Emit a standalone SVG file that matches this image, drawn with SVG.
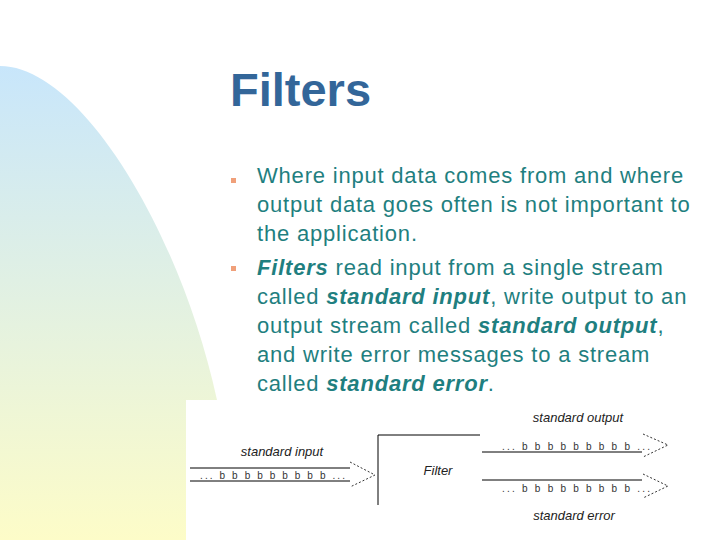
<svg xmlns="http://www.w3.org/2000/svg" width="720" height="540" viewBox="0 0 720 540">
<defs>
<linearGradient id="bg" x1="0" y1="0" x2="0" y2="1">
<stop offset="0" stop-color="#c8e6fb"/>
<stop offset="1" stop-color="#fdfcc8"/>
</linearGradient>
<style>
.b{font-family:"Liberation Sans",Arial,sans-serif;font-size:22px;letter-spacing:0.8px;fill:#1f7f80}
.d{font-family:"Liberation Sans",Arial,sans-serif;font-size:13px;font-style:italic;fill:#222}
.s{font-family:"Liberation Sans",Arial,sans-serif;font-size:10px;fill:#333}
.l{stroke:#000;stroke-width:1;fill:none}
.a{stroke:#333;stroke-width:1;fill:none;stroke-dasharray:2,2}
</style>
</defs>
<rect width="720" height="540" fill="#fff"/>
<path d="M0,66 C80,66 180,230 217,400 L186,400 L186,540 L0,540 Z" fill="url(#bg)"/>
<text x="230" y="106" font-family="Liberation Sans,Arial,sans-serif" font-size="47" font-weight="bold" fill="#336699">Filters</text>
<g id="bullets">
<rect x="231" y="178" width="5" height="5" fill="#f0a07a"/>
<rect x="231" y="266" width="5" height="5" fill="#f0a07a"/>
<text class="b" x="257" y="183">Where input data comes from and where</text>
<text class="b" x="257" y="212">output data goes often is not important to</text>
<text class="b" x="257" y="241">the application.</text>
<text class="b" x="257" y="275"><tspan font-weight="bold" font-style="italic">Filters</tspan> read input from a single stream</text>
<text class="b" x="257" y="304">called <tspan font-weight="bold" font-style="italic">standard input</tspan>, write output to an</text>
<text class="b" x="257" y="333">output stream called <tspan font-weight="bold" font-style="italic">standard output</tspan>,</text>
<text class="b" x="257" y="362">and write error messages to a stream</text>
<text class="b" x="257" y="391">called <tspan font-weight="bold" font-style="italic">standard error</tspan>.</text>
</g>
<g id="connectors">
<line class="l" x1="190" y1="468" x2="350" y2="468"/>
<line class="l" x1="190" y1="481" x2="350" y2="481"/>
<polyline class="a" points="350,462 375,475 350,487"/>
<line class="l" x1="482" y1="452" x2="642" y2="452"/>
<polyline class="a" points="643,434 668,445 643,457"/>
<line class="l" x1="482" y1="480" x2="642" y2="480"/>
<polyline class="a" points="643,474 668,486 643,498"/>
</g>
<g id="filter">
<polyline class="l" points="378,505 378,435 480,435"/>
<text class="d" x="438" y="475" text-anchor="middle">Filter</text>
</g>
<g id="input">
<text class="d" x="282" y="456" text-anchor="middle">standard input</text>
<text class="s" x="200" y="479" textLength="145" lengthAdjust="spacing">... b b b b b b b b b ...</text>
</g>
<g id="output">
<text class="d" x="578" y="422" text-anchor="middle">standard output</text>
<text class="s" x="502" y="450" textLength="148" lengthAdjust="spacing">... b b b b b b b b b ...</text>
</g>
<g id="error">
<text class="d" x="574" y="520" text-anchor="middle">standard error</text>
<text class="s" x="502" y="492" textLength="148" lengthAdjust="spacing">... b b b b b b b b b ...</text>
</g>
</svg>
